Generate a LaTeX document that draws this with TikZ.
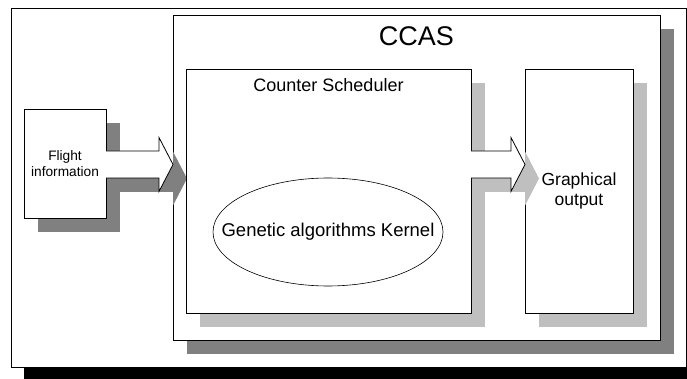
\documentclass[tikz,border=0pt]{standalone}
\usepackage{fontspec}
\setmainfont{Liberation Sans}
\usetikzlibrary{positioning,calc,shadows,shapes.geometric}

\tikzset{
	panel/.style={draw, fill=white, line width=0.8pt, inner sep=0pt, outer sep=0pt},
	darkshade/.style={drop shadow={shadow xshift=14pt, shadow yshift=-14pt, fill=black!50, opacity=1}},
	lightshade/.style={drop shadow={shadow xshift=14pt, shadow yshift=-14pt, fill=black!25, opacity=1}},
}

% wide hollow arrow from one box to the next, along the lane
\newcommand{\flowarrow}[3]{%
	\coordinate (s) at (#2.east |- lane);
	\coordinate (t) at (#3.west |- lane);
	\coordinate (b) at ($(t)+(-14,0)$);
	\fill[white, #1] ($(s)+(-0.6,-13.5)$) -- ($(b)+(0,-13.5)$) -- ($(b)+(0,-27)$) -- (t) -- ($(b)+(0,27)$) -- ($(b)+(0,13.5)$) -- ($(s)+(-0.6,13.5)$) -- cycle;
	\draw[line width=0.8pt] ($(s)+(0,-13.5)$) -- ($(b)+(0,-13.5)$) -- ($(b)+(0,-27)$) -- (t) -- ($(b)+(0,27)$) -- ($(b)+(0,13.5)$) -- ($(s)+(0,13.5)$);
}

\begin{document}
\begin{tikzpicture}[x=1pt, y=-1pt]
		\useasboundingbox (0,0) rectangle (687,379);
		\node[panel, drop shadow={shadow xshift=13pt, shadow yshift=-12pt, fill=black, opacity=1}, minimum width=675pt, minimum height=359pt] (frame) at (348.5,187.5) {};
		\coordinate (lane) at (0,164.5);
		\node[panel, darkshade, minimum width=82pt, minimum height=109pt, align=center, font=\fontsize{13.7}{16}\selectfont] (flight) at (65,163.5) {Flight\\information};
		\node[panel, darkshade, minimum width=487pt, minimum height=325pt] (ccas) at (416.5,177.5) {};
		\flowarrow{darkshade}{flight}{ccas}
		\node[inner sep=0pt, below=11pt of ccas.north, font=\fontsize{27}{32}\selectfont] (ccastitle) {CCAS};
		\node[panel, lightshade, minimum width=285pt, minimum height=244pt] (sched) at (328.5,191) {};
		\node[inner sep=0pt, below=9.5pt of sched.north, font=\fontsize{18}{21}\selectfont] (schedtitle) {Counter Scheduler};
		\node[draw, ellipse, line width=0.6pt, inner sep=0pt, minimum width=230pt, minimum height=108pt] (kernel) at (328,232) {};
		\node[inner sep=0pt, font=\fontsize{18.5}{22}\selectfont] (kerneltext) at (kernel.center) {Genetic algorithms Kernel};
		\node[panel, lightshade, minimum width=108pt, minimum height=244pt, align=center, font=\fontsize{17.5}{20}\selectfont] (graph) at (579,191) {Graphical\\output};
		\flowarrow{lightshade}{sched}{graph}
\end{tikzpicture}
\end{document}
